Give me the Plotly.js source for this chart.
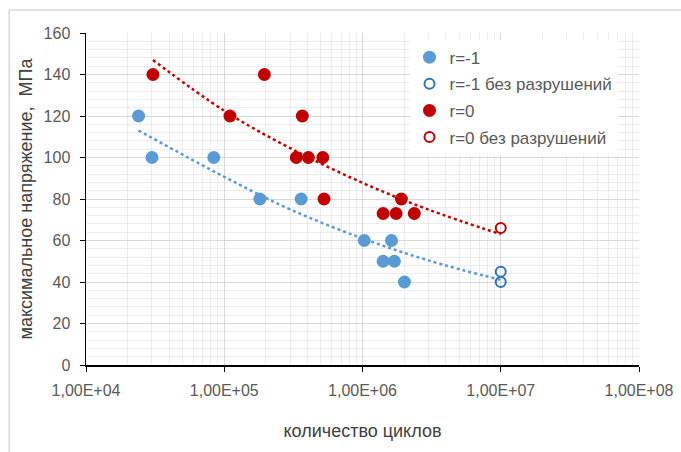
<!DOCTYPE html>
<html><head><meta charset="utf-8">
<script src="https://cdn.plot.ly/plotly-3.0.1.min.js"></script>
<style>html,body{margin:0;padding:0;background:#fff}#chart{width:681px;height:452px}</style>
</head><body><div id="chart"></div>
<script>
// r=-1 (failed)
const rm1X = [2.4e4, 3.0e4, 8.4e4, 1.81e5, 3.6e5, 1.03e6, 1.62e6, 1.41e6, 1.70e6, 2.01e6];
const rm1Y = [120, 100, 100, 80, 80, 60, 60, 50, 50, 40];
// r=-1 без разрушений (run-outs)
const rm1RunX = [1e7, 1e7];
const rm1RunY = [45, 40];
// r=0 (failed)
const r0X = [3.05e4, 1.95e5, 1.10e5, 3.67e5, 3.32e5, 4.06e5, 5.16e5, 5.27e5, 1.91e6, 1.41e6, 1.75e6, 2.37e6];
const r0Y = [140, 140, 120, 120, 100, 100, 100, 80, 80, 73, 73, 73];
// r=0 без разрушений
const r0RunX = [1e7];
const r0RunY = [66];
// trend lines
const trendRm1X = [2.4e4, 1e5, 3e5, 1e6, 3e6, 1e7];
const trendRm1Y = [113, 90.7, 75, 61, 50.4, 41];
const trendR0X = [3.05e4, 1e5, 3e5, 1e6, 3e6, 1e7];
const trendR0Y = [147, 122.5, 104.5, 87.8, 74.9, 63];
// axis ticks
const xTickVals = [1e4, 1e5, 1e6, 1e7, 1e8];
const xTickText = ['1,00E+04', '1,00E+05', '1,00E+06', '1,00E+07', '1,00E+08'];

const blue = '#5B9BD5', blueDark = '#2E75B6', red = '#C00000';
const FONT = 'Liberation Sans Narrow, Liberation Sans, Arial, sans-serif';

const traces = [
  {x: trendRm1X, y: trendRm1Y, mode: 'lines', line: {color: blue, width: 2.5, dash: 'dot', shape: 'spline'}, showlegend: false, hoverinfo: 'skip'},
  {x: trendR0X, y: trendR0Y, mode: 'lines', line: {color: red, width: 2.5, dash: 'dot', shape: 'spline'}, showlegend: false, hoverinfo: 'skip'},
  {x: rm1X, y: rm1Y, mode: 'markers', name: 'r=-1', legendgroup: 'a', marker: {color: blue, size: 13}},
  {x: rm1RunX, y: rm1RunY, mode: 'markers', name: 'r=-1 без разрушений', legendgroup: 'b', marker: {color: 'rgba(0,0,0,0)', size: 10, line: {color: blueDark, width: 2}}},
  {x: r0X, y: r0Y, mode: 'markers', name: 'r=0', legendgroup: 'c', marker: {color: red, size: 13}},
  {x: r0RunX, y: r0RunY, mode: 'markers', name: 'r=0 без разрушений', legendgroup: 'd', marker: {color: 'rgba(0,0,0,0)', size: 10, line: {color: red, width: 2}}}
];

const layout = {
  width: 681, height: 452,
  margin: {l: 86, r: 42, t: 33, b: 87},
  paper_bgcolor: '#fff', plot_bgcolor: '#fff',
  font: {family: FONT, size: 16, color: '#595959'},
  showlegend: true,
  legend: {x: 0.585, y: 0.98, xanchor: 'left', yanchor: 'top', bgcolor: '#fff', tracegroupgap: 1.5,
           font: {family: FONT, size: 17, color: '#595959'}, itemwidth: 30},
  xaxis: {
    type: 'log', range: [4, 8], tickvals: xTickVals, ticktext: xTickText,
    showline: true, linecolor: '#000', linewidth: 1.5, ticks: 'outside', ticklen: 5, tickcolor: '#000',
    ticklabelstandoff: 5,
    showgrid: true, gridcolor: '#d9d9d9', gridwidth: 1, zeroline: false,
    minor: {dtick: 'D1', showgrid: true, gridcolor: '#ececec', gridwidth: 1, ticks: ''},
    title: {text: 'количество циклов', font: {family: FONT, size: 18, color: '#404040'}, standoff: 26},
    tickfont: {family: FONT, size: 16, color: '#595959'}
  },
  yaxis: {
    range: [0, 160], dtick: 20, tick0: 0,
    showline: true, linecolor: '#000', linewidth: 1.5, ticks: 'outside', ticklen: 5, tickcolor: '#000',
    ticklabelstandoff: 6,
    showgrid: true, gridcolor: '#d9d9d9', gridwidth: 1, zeroline: false,
    minor: {dtick: 4, showgrid: true, gridcolor: '#ececec', gridwidth: 1, ticks: ''},
    title: {text: 'максимальное напряжение,  МПа', font: {family: FONT, size: 18, color: '#404040'}, standoff: 6},
    tickfont: {family: FONT, size: 16, color: '#595959'}
  },
  shapes: [
    {type: 'line', xref: 'paper', yref: 'paper', x0: -0.139, x1: 1.1, y0: 1.069, y1: 1.069, line: {color: '#d9d9d9', width: 1.5}},
    {type: 'line', xref: 'paper', yref: 'paper', x0: -0.139, x1: -0.139, y0: 1.069, y1: -0.3, line: {color: '#d9d9d9', width: 1.5}}
  ]
};
Plotly.newPlot('chart', traces, layout, {displayModeBar: false, staticPlot: true});
</script></body></html>
